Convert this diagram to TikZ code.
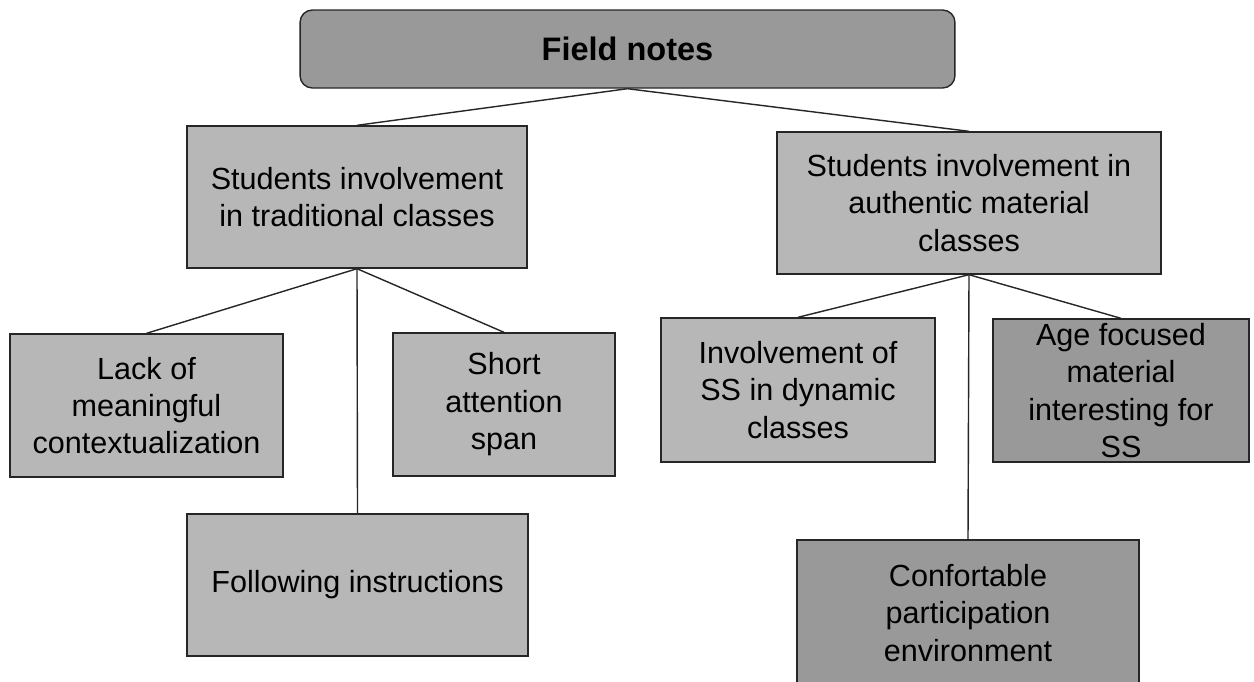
\documentclass[tikz,border=0pt]{standalone}
\usepackage{fontspec}
\setmainfont{Liberation Sans}
\definecolor{boxlight}{HTML}{B7B7B7}
\definecolor{boxdark}{HTML}{999999}

\begin{document}
\begin{tikzpicture}[x=0.02cm, y=-0.02cm,
  box/.style={draw=black!85, line width=0.8pt, fill=boxlight, align=center,
    inner sep=0pt, font=\fontsize{17.4}{21.3}\selectfont},
  darkbox/.style={box, fill=boxdark},
  link/.style={draw=black!85, line width=0.8pt}]
  \useasboundingbox (0,0) rectangle (1254,681);
  % root
  \node [darkbox, rounded corners=7pt, minimum width=13.1cm, minimum height=1.56cm,
    font=\fontsize{18.5}{22}\selectfont\bfseries] (notes) at (627.5,49) {Field notes};
  % second level
  \node [box, minimum width=6.8cm, minimum height=2.84cm] (trad) at (357,197)
    {Students involvement\\in traditional classes};
  \node [box, minimum width=7.68cm, minimum height=2.84cm] (auth) at (969,203)
    {Students involvement in\\authentic material\\classes};
  % leaves under traditional classes
  \node [box, minimum width=5.46cm, minimum height=2.86cm] (lack) at (146.5,405.5)
    {Lack of\\meaningful\\contextualization};
  \node [box, minimum width=4.44cm, minimum height=2.86cm] (short) at (504,404.5)
    {Short\\attention\\span};
  \node [box, minimum width=6.82cm, minimum height=2.84cm] (follow) at (357.5,585)
    {Following instructions};
  % leaves under authentic material classes
  \node [box, minimum width=5.48cm, minimum height=2.88cm] (dyn) at (798,390)
    {Involvement of\\SS in dynamic\\classes};
  \node [darkbox, minimum width=5.12cm, minimum height=2.86cm] (age) at (1121,390.5)
    {Age focused\\material\\interesting for\\SS};
  \node [darkbox, minimum width=6.84cm, minimum height=2.92cm] (conf) at (968,613)
    {Confortable\\participation\\environment};
  % connectors
  \draw [link] (notes.south) -- (trad.north);
  \draw [link] (notes.south) -- (auth.north);
  \foreach \n in {lack,short,follow} {
    \draw [link] (trad.south) -- (\n.north);
  };
  \foreach \n in {dyn,age,conf} {
    \draw [link] (auth.south) -- (\n.north);
  };
\end{tikzpicture}
\end{document}
